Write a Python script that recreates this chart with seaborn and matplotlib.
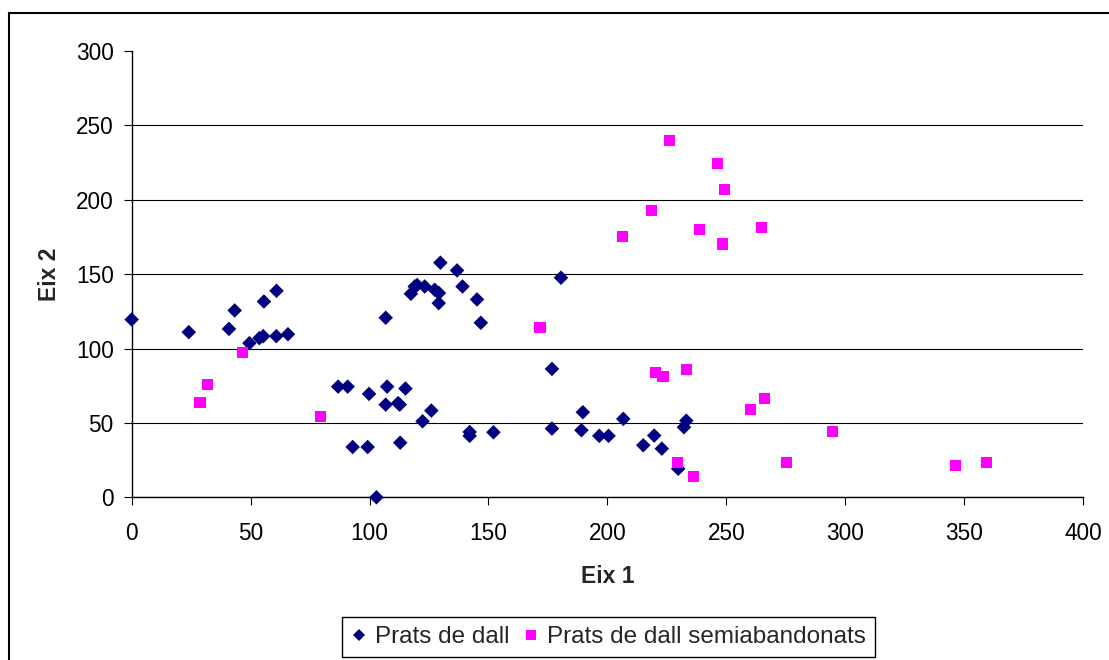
import matplotlib
matplotlib.use('Agg')
import pandas as pd
import numpy as np
import matplotlib.pyplot as plt
import seaborn as sns
from matplotlib.lines import Line2D
from matplotlib.patches import Rectangle

# valors llegits del gràfic
eix1_dall = [0, 24, 40.9, 43.3, 49.5, 53.7, 55.3, 55.6, 60.9, 60.8, 65.7,
             86.8, 90.8, 99.8, 107.4, 115.1, 106.8, 112, 112.7, 126, 122.3,
             92.9, 99.2, 112.9, 102.9, 106.8, 117.4, 119, 120, 123.2, 127.4,
             129.2, 129.1, 129.8, 136.8, 139.1, 145.2, 146.8, 142.1, 142.1,
             152.1, 176.7, 176.7, 180.5, 189.7, 189.1, 196.6, 200.5, 206.7,
             215.1, 219.7, 222.9, 229.8, 232.2, 233.2]
eix2_dall = [119.5, 111, 113.2, 125.6, 103.6, 107, 108.3, 131.6, 138.8, 108.3, 109.6,
             74.4, 74.4, 69.5, 74.4, 73.1, 62.3, 63.3, 62.3, 58.3, 51.1,
             33.8, 33.8, 36.7, 0, 120.7, 136.8, 141.7, 142.7, 141.7, 139.5,
             137.3, 130.5, 157.7, 152.5, 141.7, 133, 117.3, 43.9, 41.3,
             43.7, 86.3, 46.2, 147.6, 57.2, 45.1, 41.3, 41.3, 52.7,
             35, 41.5, 32.7, 19.2, 47.1, 51.5]

eix1_semi = [28.7, 31.9, 46.5, 79.4, 171.7, 206.4, 218.7, 220.2, 223.4, 226.3,
             229.5, 233.2, 236.4, 238.7, 246.3, 248.6, 249.4, 260.2, 264.8,
             266.2, 275.5, 294.8, 346.3, 359.5]
eix2_semi = [63.9, 76, 97.1, 54.2, 113.9, 175.2, 192.5, 83.6, 81, 240,
             23.6, 85.9, 13.9, 180.1, 224.1, 170.3, 207, 59.2, 181.2,
             66.4, 23.6, 44.4, 21.3, 23.6]

grups = ['Prats de dall', 'Prats de dall semiabandonats']
colors = {grups[0]: '#000080', grups[1]: '#FF00FF'}
markers = {grups[0]: 'D', grups[1]: 's'}
sizes = {grups[0]: 55, grups[1]: 64}

df = pd.DataFrame({
    'eix1': eix1_dall + eix1_semi,
    'eix2': eix2_dall + eix2_semi,
    'grup': [grups[0]] * len(eix1_dall) + [grups[1]] * len(eix1_semi),
})

sns.set_style('white')
plt.rcParams['font.family'] = ['Liberation Sans', 'DejaVu Sans']

W, H = 1109, 660
fig = plt.figure(figsize=(W / 100, H / 100), dpi=100)
ax = fig.add_axes([131.7 / W, (H - 497.3) / H, (1083 - 131.7) / W, (497.3 - 51) / H])

sns.scatterplot(data=df, x='eix1', y='eix2', hue='grup', style='grup', size='grup',
                palette=colors, markers=markers, sizes=sizes, linewidth=0,
                legend=False, ax=ax, zorder=3)
for c in ax.collections:
    c.set_clip_on(False)

ax.set_xlim(0, 400)
ax.set_ylim(0, 300)
ax.set_xticks(np.arange(0, 401, 50))
ax.set_yticks(np.arange(0, 301, 50))
ax.yaxis.grid(True, color='black', lw=0.8)
ax.get_ygridlines()[-1].set_visible(False)
ax.xaxis.grid(False)
for s in ['top', 'right']:
    ax.spines[s].set_visible(False)
for s in ['left', 'bottom']:
    ax.spines[s].set_color('black')
    ax.spines[s].set_linewidth(1)
ax.tick_params(axis='both', bottom=True, left=True, direction='out', length=5.5,
               width=0.8, color='black', labelsize=16.3, labelcolor='black')
ax.tick_params(axis='x', pad=12.5)
ax.tick_params(axis='y', pad=7.5)

ax.set_xlabel('Eix 1', fontsize=16.5, fontweight='bold', va='top')
ax.set_ylabel('Eix 2', fontsize=16.5, fontweight='bold')
ax.xaxis.set_label_coords(0.5, -0.152)
ax.yaxis.set_label_coords(-0.074, 0.5)

handles = [Line2D([], [], ls='', marker='D', color=colors[grups[0]], markersize=6, mew=0),
           Line2D([], [], ls='', marker='s', color=colors[grups[1]], markersize=7, mew=0)]
leg = ax.legend(handles, grups, loc='upper center', ncol=2,
                bbox_to_anchor=(608.5 / W, 1 - 617 / H), bbox_transform=fig.transFigure,
                borderaxespad=0, fontsize=17.5, frameon=True, fancybox=False,
                edgecolor='black', framealpha=1, borderpad=0.38, handlelength=0.6,
                handletextpad=0.35, columnspacing=0.6)
leg.get_frame().set_linewidth(1)

fig.add_artist(Rectangle((9 / W, -0.1), 1.2, 1 - 12.7 / H + 0.1, transform=fig.transFigure,
                         fill=False, ec='black', lw=1.5, clip_on=False))

fig.savefig('out.png', dpi=100)
